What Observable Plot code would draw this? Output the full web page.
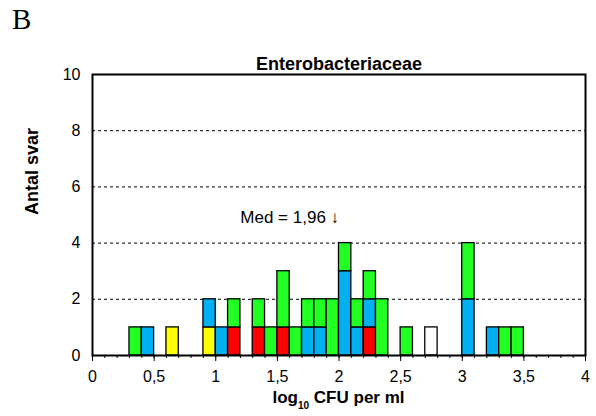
<!DOCTYPE html>
<html>
<head>
<meta charset="utf-8">
<script src="https://cdn.jsdelivr.net/npm/d3@7"></script>
<script src="https://cdn.jsdelivr.net/npm/@observablehq/plot@0.6"></script>
<style>
  body { margin: 0; background: white; }
  #wrap { position: relative; width: 596px; height: 416px; font-family: "Liberation Sans", Arial, sans-serif; }
  #panel { position: absolute; left: 12px; top: 5px; font-family: "Liberation Serif", "Times New Roman", serif; font-size: 29px; line-height: 1; }
  #xlabel { position: absolute; left: 92px; width: 493px; top: 389px; text-align: center; font-weight: bold; font-size: 17px; line-height: 1; }
  #xlabel sub { font-size: 10px; vertical-align: -6px; }
</style>
</head>
<body>
<div id="wrap">
  <div id="panel">B</div>
  <div id="xlabel">log<sub>10</sub> CFU per ml</div>
</div>
<script>
// Bin lower edges (log10 CFU per ml), bin width 0.1
const bins = [0.3, 0.4, 0.6, 0.9, 1.0, 1.1, 1.3, 1.4, 1.5, 1.6, 1.7, 1.8, 1.9, 2.0, 2.1, 2.2, 2.3, 2.5, 2.7, 3.0, 3.2, 3.3, 3.4];
const binWidth = 0.1;
// Counts per series, aligned with bins (stacking order bottom -> top)
const serieGul  = [0, 0, 1, 1, 0, 0, 0, 0, 0, 0, 0, 0, 0, 0, 0, 0, 0, 0, 0, 0, 0, 0, 0];
const serieRod  = [0, 0, 0, 0, 0, 1, 1, 0, 1, 0, 0, 0, 0, 0, 0, 1, 0, 0, 0, 0, 0, 0, 0];
const serieBla  = [0, 1, 0, 1, 1, 0, 0, 0, 0, 0, 1, 1, 0, 3, 1, 1, 0, 0, 0, 2, 1, 0, 0];
const serieGron = [1, 0, 0, 0, 0, 1, 1, 1, 2, 1, 1, 1, 2, 1, 1, 1, 2, 1, 0, 2, 0, 1, 1];
const serieVit  = [0, 0, 0, 0, 0, 0, 0, 0, 0, 0, 0, 0, 0, 0, 0, 0, 0, 0, 1, 0, 0, 0, 0];
const seriesNames = ["s1", "s2", "s3", "s4", "s5"];
const seriesColors = ["#ffff00", "#ff0000", "#00b0f0", "#22ff22", "#ffffff"];
const yTicks = [0, 2, 4, 6, 8, 10];
const gridLines = [2, 4, 6, 8];
const xMajorTicks = [0, 0.5, 1, 1.5, 2, 2.5, 3, 3.5, 4];
const xMinorTicks = d3.range(0, 41).map(i => i / 10);
const median = 1.96;
const medianLabel = "Med = 1,96 \u2193\uFE0E";
const title = "Enterobacteriaceae";
const yLabel = "Antal svar";

const seriesData = [serieGul, serieRod, serieBla, serieGron, serieVit];
const rows = [];
bins.forEach((b, i) => {
  let base = 0;
  seriesData.forEach((s, k) => {
    if (s[i] > 0) {
      rows.push({x1: b, x2: Math.round((b + binWidth) * 10) / 10, y1: base, y2: base + s[i], series: seriesNames[k]});
      base += s[i];
    }
  });
});

const chart = Plot.plot({
  width: 596,
  height: 416,
  marginTop: 74,
  marginBottom: 61,
  marginLeft: 92,
  marginRight: 11,
  x: {domain: [0, 4]},
  y: {domain: [0, 10]},
  color: {type: "ordinal", domain: seriesNames, range: seriesColors},
  style: {fontFamily: "'Liberation Sans', Arial, sans-serif", fontSize: "16px", color: "black", background: "white"},
  marks: [
    Plot.ruleY(gridLines, {stroke: "black", strokeWidth: 1, strokeDasharray: "3,3"}),
    Plot.rect(rows, {x1: "x1", x2: "x2", y1: "y1", y2: "y2", fill: "series", stroke: "black", strokeWidth: 1.3}),
    Plot.frame({stroke: "black", strokeWidth: 2}),
    Plot.axisY(yTicks, {tickSize: 0, tickPadding: 12, label: null, fontSize: 16}),
    Plot.axisX(xMinorTicks, {tickSize: 3, tickFormat: () => "", label: null}),
    Plot.axisX(xMajorTicks, {tickSize: 6, tickPadding: 9, tickFormat: d => String(d).replace(".", ","), label: null, fontSize: 16}),
    Plot.text([{x: median, y: 4.9, t: medianLabel}], {x: "x", y: "y", text: "t", textAnchor: "end", dx: 5, fontSize: 17, fill: "black", fontFamily: "'Liberation Sans', 'DejaVu Sans', sans-serif"}),
    Plot.text([title], {frameAnchor: "top", dy: -17, fontWeight: "bold", fontSize: 18}),
    Plot.text([yLabel], {frameAnchor: "left", dx: -60, rotate: -90, fontWeight: "bold", fontSize: 18})
  ]
});
chart.style.position = "absolute";
chart.style.left = "0px";
chart.style.top = "0px";
const wrap = document.getElementById("wrap");
wrap.insertBefore(chart, wrap.firstChild);
</script>
</body>
</html>
